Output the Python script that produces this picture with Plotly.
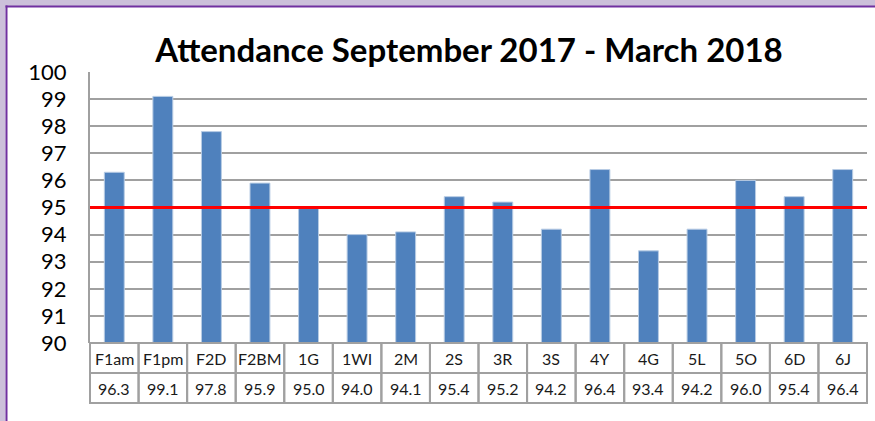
import plotly.graph_objects as go

# ---- data ----
categories = ["F1am", "F1pm", "F2D", "F2BM", "1G", "1WI", "2M", "2S", "3R", "3S",
              "4Y", "4G", "5L", "5O", "6D", "6J"]
attendance = [96.3, 99.1, 97.8, 95.9, 95.0, 94.0, 94.1, 95.4, 95.2, 94.2,
              96.4, 93.4, 94.2, 96.0, 95.4, 96.4]
target = 95
y_min, y_max = 90, 100
title_text = "Attendance September 2017 - March 2018"

# ---- layout geometry (pixels) ----
W, H = 875, 421
L, R, T, B = 90, 8, 72, 78
PW, PH = W - L - R, H - T - B

def px_x(px):
    return (px - L) / PW

def px_y(py):
    return (H - B - py) / PH

FONT = "Lato, Carlito, 'Open Sans', Arial, sans-serif"
GRID = "#a0a0a0"

fig = go.Figure()
fig.add_trace(go.Bar(
    x=categories, y=attendance,
    marker=dict(color="#4f81bd", line=dict(color="#b8cce4", width=1)),
    hoverinfo="x+y",
))

shapes = []
# background strips / purple border
shapes.append(dict(type="rect", xref="paper", yref="paper",
                   x0=px_x(0), x1=px_x(W), y0=px_y(0), y1=px_y(6),
                   fillcolor="#ccc0da", line=dict(width=0), layer="below"))
shapes.append(dict(type="rect", xref="paper", yref="paper",
                   x0=px_x(0), x1=px_x(5.5), y0=px_y(0), y1=px_y(H),
                   fillcolor="#ccc0da", line=dict(width=0), layer="below"))
shapes.append(dict(type="line", xref="paper", yref="paper",
                   x0=px_x(5.5), x1=px_x(W), y0=px_y(6.5), y1=px_y(6.5),
                   line=dict(color="#7030a0", width=2)))
shapes.append(dict(type="line", xref="paper", yref="paper",
                   x0=px_x(6.5), x1=px_x(6.5), y0=px_y(5.5), y1=px_y(H),
                   line=dict(color="#7030a0", width=2)))

# target line
shapes.append(dict(type="line", xref="paper", yref="y", x0=0, x1=1,
                   y0=target, y1=target, line=dict(color="#ff0000", width=3)))

# data table under the axis (one rectangle per cell)
n = len(categories)
row1 = px_y(H - B + 30)
row2 = px_y(H - B + 60)
for i in range(n):
    for (ya, yb) in [(0, row1), (row1, row2)]:
        shapes.append(dict(type="rect", xref="paper", yref="paper",
                           x0=i / n, x1=(i + 1) / n, y0=ya, y1=yb,
                           fillcolor="rgba(0,0,0,0)",
                           line=dict(color=GRID, width=2)))

annotations = []
for c, v in zip(categories, attendance):
    annotations.append(dict(x=c, xref="x", y=row1 / 2, yref="paper", text=c,
                            yanchor="middle", showarrow=False,
                            font=dict(family=FONT, size=16, color="#1a1a1a")))
    annotations.append(dict(x=c, xref="x", y=(row1 + row2) / 2, yref="paper",
                            text=f"{v:.1f}", yanchor="middle", showarrow=False,
                            font=dict(family=FONT, size=16, color="#1a1a1a")))

fig.update_layout(
    width=W, height=H,
    margin=dict(l=L, r=R, t=T, b=B),
    paper_bgcolor="white", plot_bgcolor="white",
    title=dict(text=f"<b>{title_text}</b>", x=469 / W, xref="container",
               xanchor="center", y=1 - 50 / H, yref="container", yanchor="middle",
               font=dict(family=FONT, size=33, color="black")),
    bargap=0.59,
    showlegend=False,
    shapes=shapes,
    annotations=annotations,
    xaxis=dict(showticklabels=False, showgrid=False, zeroline=False, ticks="",
               showline=False, range=[-0.5, n - 0.5]),
    yaxis=dict(range=[y_min, y_max], dtick=1, tick0=y_min, showgrid=True,
               gridcolor=GRID, gridwidth=2, zeroline=False,
               showline=True, linecolor=GRID, linewidth=2,
               ticks="", ticklabelstandoff=17,
               tickfont=dict(family=FONT, size=22, color="black")),
)

fig.write_html("out.html",
               config={"displayModeBar": False},
               post_script="document.body.style.margin='0px';"
                           "document.body.style.overflow='hidden';")
